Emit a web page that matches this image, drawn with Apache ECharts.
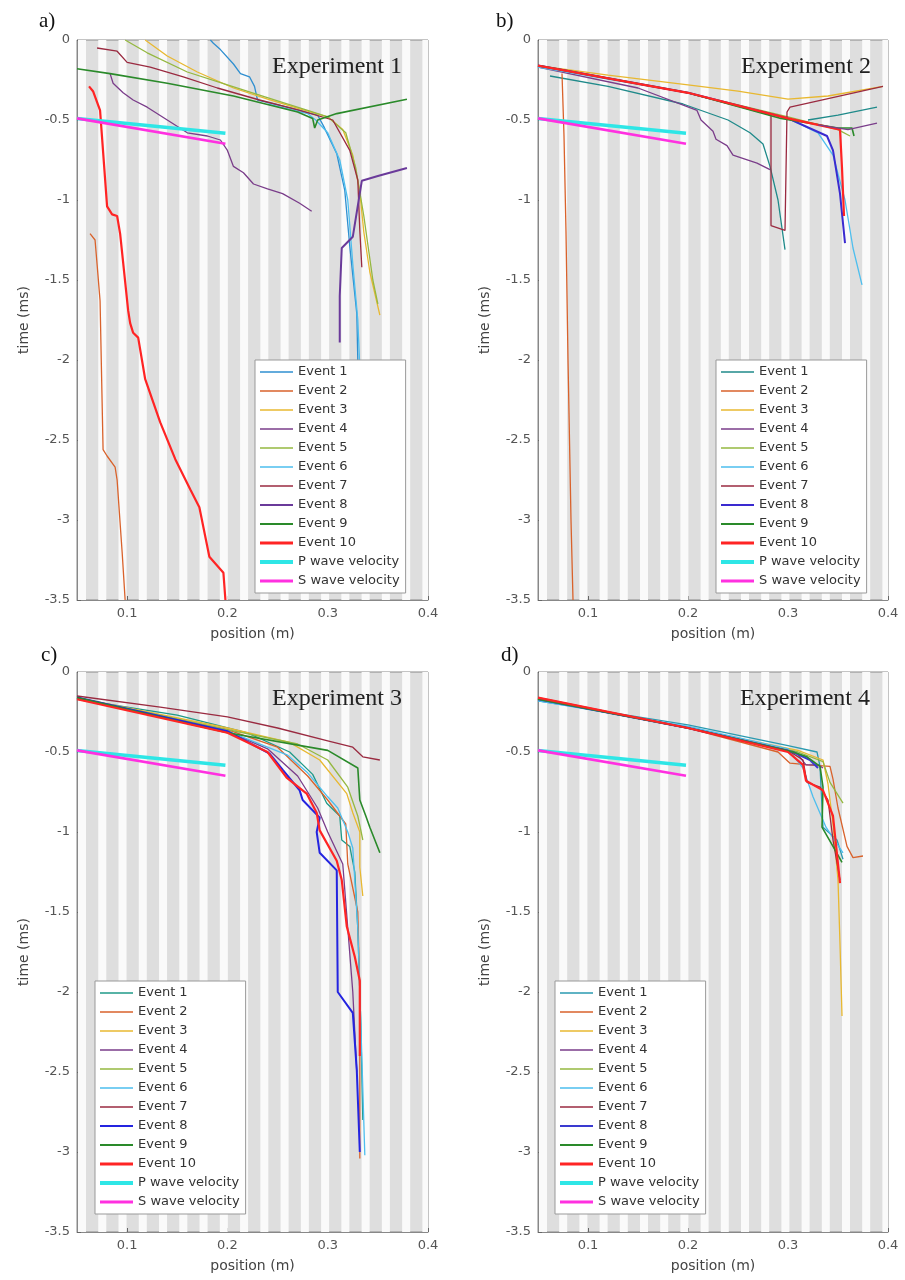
<!DOCTYPE html>
<html>
<head>
<meta charset="utf-8">
<script src="https://cdn.jsdelivr.net/npm/echarts@6/dist/echarts.min.js"></script>
<style>html,body{margin:0;padding:0;background:#fff}#c{width:905px;height:1280px}</style>
</head>
<body>
<div id="c"></div>
<script>
// ---------- data (position m, time ms) ----------
const seriesNames = ['Event 1','Event 2','Event 3','Event 4','Event 5','Event 6','Event 7','Event 8','Event 9','Event 10','P wave velocity','S wave velocity'];
const panelTitles = ['Experiment 1','Experiment 2','Experiment 3','Experiment 4'];
const panelLetters = ['a)','b)','c)','d)'];
const xTicks = [0.1,0.2,0.3,0.4];

const pWave = [[0.05,-0.49],[0.198,-0.583]];
const sWave = [[0.05,-0.49],[0.198,-0.648]];

// Experiment 1
const a_e1 = [[0.183,0],[0.186,-0.02],[0.193,-0.06],[0.206,-0.15],[0.213,-0.21],[0.222,-0.23],[0.227,-0.29],[0.23,-0.375],[0.26,-0.42],[0.29,-0.47],[0.296,-0.54],[0.309,-0.71],[0.317,-0.94],[0.322,-1.29],[0.329,-1.71],[0.33,-2.0]];
const a_e2 = [[0.063,-1.21],[0.068,-1.25],[0.07,-1.4],[0.073,-1.63],[0.076,-2.56],[0.08,-2.6],[0.088,-2.67],[0.09,-2.75],[0.095,-3.2],[0.098,-3.5]];
const a_e3 = [[0.118,0],[0.14,-0.1],[0.17,-0.2],[0.206,-0.3],[0.24,-0.37],[0.272,-0.43],[0.3,-0.48],[0.315,-0.56],[0.325,-0.72],[0.332,-0.95],[0.336,-1.2],[0.342,-1.45],[0.352,-1.72]];
const a_e4 = [[0.083,-0.21],[0.086,-0.27],[0.096,-0.33],[0.106,-0.375],[0.12,-0.42],[0.14,-0.5],[0.16,-0.58],[0.18,-0.6],[0.193,-0.625],[0.2,-0.69],[0.206,-0.79],[0.216,-0.83],[0.226,-0.9],[0.24,-0.93],[0.255,-0.96],[0.272,-1.02],[0.284,-1.07]];
const a_e5 = [[0.098,0],[0.12,-0.08],[0.16,-0.2],[0.2,-0.28],[0.25,-0.38],[0.28,-0.44],[0.3,-0.48],[0.318,-0.58],[0.328,-0.8],[0.336,-1.1],[0.345,-1.5],[0.35,-1.65]];
const a_e6 = [[0.24,-0.4],[0.28,-0.46],[0.288,-0.5],[0.3,-0.58],[0.312,-0.75],[0.32,-1.0],[0.325,-1.4],[0.33,-1.75],[0.332,-2.05]];
const a_e7 = [[0.07,-0.05],[0.09,-0.07],[0.1,-0.14],[0.123,-0.17],[0.156,-0.23],[0.19,-0.3],[0.232,-0.375],[0.272,-0.44],[0.305,-0.5],[0.322,-0.69],[0.33,-0.875],[0.332,-1.19],[0.334,-1.42]];
const a_e8 = [[0.379,-0.8],[0.35,-0.85],[0.334,-0.88],[0.325,-1.23],[0.314,-1.3],[0.312,-1.6],[0.312,-1.89]];
const a_e9 = [[0.05,-0.18],[0.083,-0.21],[0.14,-0.27],[0.206,-0.35],[0.27,-0.45],[0.285,-0.49],[0.287,-0.55],[0.29,-0.5],[0.309,-0.46],[0.379,-0.37]];
const a_e10 = [[0.062,-0.29],[0.066,-0.32],[0.073,-0.44],[0.08,-1.04],[0.085,-1.09],[0.09,-1.1],[0.093,-1.21],[0.101,-1.69],[0.103,-1.77],[0.106,-1.83],[0.111,-1.86],[0.118,-2.12],[0.133,-2.39],[0.148,-2.62],[0.163,-2.81],[0.172,-2.92],[0.182,-3.23],[0.196,-3.33],[0.198,-3.5]];

// Experiment 2
const b_e1 = [[0.062,-0.225],[0.12,-0.29],[0.195,-0.4],[0.24,-0.5],[0.262,-0.58],[0.275,-0.65],[0.282,-0.79],[0.29,-1.0],[0.297,-1.31]];
const b_e1_tail = [[0.32,-0.5],[0.35,-0.47],[0.389,-0.42]];
const b_e2 = [[0.074,-0.21],[0.076,-0.6],[0.078,-1.2],[0.08,-2.0],[0.083,-3.0],[0.085,-3.5]];
const b_e3 = [[0.05,-0.16],[0.12,-0.22],[0.2,-0.28],[0.25,-0.32],[0.3,-0.37],[0.34,-0.35],[0.395,-0.29]];
const b_e4 = [[0.05,-0.17],[0.15,-0.3],[0.209,-0.44],[0.213,-0.5],[0.225,-0.57],[0.228,-0.62],[0.239,-0.66],[0.245,-0.72],[0.269,-0.77],[0.282,-0.81]];
const b_e4_tail = [[0.33,-0.53],[0.36,-0.56],[0.389,-0.52]];
const b_e5 = [[0.05,-0.16],[0.2,-0.33],[0.3,-0.48],[0.35,-0.56],[0.362,-0.6]];
const b_e6 = [[0.05,-0.17],[0.2,-0.33],[0.3,-0.49],[0.33,-0.58],[0.345,-0.72],[0.357,-1.0],[0.365,-1.3],[0.374,-1.53]];
const b_e7 = [[0.05,-0.16],[0.2,-0.33],[0.283,-0.47],[0.283,-1.16],[0.297,-1.19],[0.299,-0.45],[0.302,-0.42],[0.395,-0.29]];
const b_e8 = [[0.05,-0.16],[0.2,-0.33],[0.3,-0.49],[0.339,-0.6],[0.345,-0.69],[0.352,-0.96],[0.357,-1.27]];
const b_e9 = [[0.05,-0.16],[0.2,-0.33],[0.293,-0.49],[0.35,-0.55],[0.364,-0.55],[0.366,-0.6]];
const b_e10 = [[0.05,-0.16],[0.2,-0.33],[0.3,-0.49],[0.352,-0.56],[0.354,-0.8],[0.356,-1.1]];

// Experiment 3
const c_e1 = [[0.05,-0.17],[0.15,-0.27],[0.22,-0.38],[0.262,-0.5],[0.285,-0.64],[0.299,-0.82],[0.312,-0.9],[0.314,-1.05],[0.322,-1.09],[0.327,-1.25],[0.33,-1.6],[0.333,-2.2],[0.335,-2.8]];
const c_e2 = [[0.05,-0.17],[0.2,-0.36],[0.25,-0.47],[0.28,-0.65],[0.3,-0.8],[0.318,-0.95],[0.32,-1.2],[0.33,-1.5],[0.332,-2.0],[0.332,-3.04]];
const c_e3 = [[0.05,-0.16],[0.2,-0.35],[0.262,-0.44],[0.292,-0.55],[0.319,-0.76],[0.325,-0.88],[0.332,-1.0],[0.332,-1.22],[0.335,-1.4]];
const c_e4 = [[0.05,-0.16],[0.2,-0.37],[0.24,-0.48],[0.27,-0.65],[0.29,-0.85],[0.3,-1.0],[0.315,-1.2],[0.32,-1.6],[0.325,-2.0],[0.329,-2.5]];
const c_e5 = [[0.05,-0.16],[0.2,-0.36],[0.27,-0.45],[0.3,-0.55],[0.32,-0.72],[0.33,-0.9],[0.335,-1.05]];
const c_e6 = [[0.05,-0.17],[0.2,-0.37],[0.26,-0.52],[0.28,-0.63],[0.3,-0.78],[0.31,-0.85],[0.32,-1.0],[0.325,-1.1],[0.33,-1.6],[0.334,-2.4],[0.337,-3.02]];
const c_e7 = [[0.05,-0.15],[0.133,-0.22],[0.2,-0.28],[0.25,-0.35],[0.3,-0.43],[0.325,-0.47],[0.335,-0.53],[0.352,-0.55]];
const c_e8 = [[0.05,-0.16],[0.2,-0.37],[0.242,-0.51],[0.255,-0.61],[0.272,-0.74],[0.275,-0.8],[0.292,-0.91],[0.289,-1.0],[0.292,-1.13],[0.309,-1.24],[0.31,-2.0],[0.325,-2.13],[0.329,-2.49],[0.332,-3.0]];
const c_e9 = [[0.05,-0.16],[0.2,-0.38],[0.3,-0.49],[0.33,-0.6],[0.332,-0.8],[0.338,-0.9],[0.342,-0.97],[0.352,-1.13]];
const c_e10 = [[0.05,-0.17],[0.2,-0.38],[0.24,-0.5],[0.259,-0.66],[0.279,-0.76],[0.289,-0.88],[0.292,-0.99],[0.309,-1.18],[0.314,-1.3],[0.319,-1.59],[0.327,-1.78],[0.332,-1.93],[0.332,-2.4]];

// Experiment 4
const d_e1 = [[0.05,-0.18],[0.2,-0.33],[0.3,-0.46],[0.329,-0.5],[0.332,-0.59],[0.335,-0.97],[0.349,-1.05],[0.355,-1.17]];
const d_e2 = [[0.05,-0.17],[0.2,-0.35],[0.29,-0.5],[0.302,-0.57],[0.32,-0.58],[0.342,-0.59],[0.345,-0.67],[0.35,-0.85],[0.359,-1.09],[0.365,-1.16],[0.375,-1.15]];
const d_e3 = [[0.05,-0.17],[0.2,-0.35],[0.31,-0.49],[0.335,-0.55],[0.34,-0.7],[0.345,-0.95],[0.35,-1.3],[0.352,-1.7],[0.354,-2.15]];
const d_e4 = [[0.05,-0.17],[0.2,-0.35],[0.309,-0.51],[0.318,-0.58],[0.33,-0.58],[0.335,-0.6]];
const d_e5 = [[0.05,-0.17],[0.2,-0.35],[0.31,-0.5],[0.335,-0.56],[0.342,-0.69],[0.355,-0.82]];
const d_e6 = [[0.05,-0.18],[0.2,-0.34],[0.3,-0.48],[0.315,-0.6],[0.325,-0.78],[0.338,-0.97],[0.355,-1.13]];
const d_e7 = [[0.05,-0.16],[0.2,-0.35],[0.3,-0.49],[0.315,-0.55],[0.319,-0.69],[0.332,-0.72],[0.34,-0.8],[0.345,-1.05],[0.352,-1.3]];
const d_e8 = [[0.05,-0.17],[0.2,-0.35],[0.305,-0.5],[0.322,-0.55],[0.33,-0.6]];
const d_e9 = [[0.05,-0.17],[0.2,-0.35],[0.305,-0.5],[0.319,-0.53],[0.332,-0.59],[0.335,-0.72],[0.334,-0.97],[0.345,-1.09],[0.354,-1.19]];
const d_e10 = [[0.05,-0.16],[0.2,-0.35],[0.3,-0.5],[0.315,-0.58],[0.318,-0.68],[0.335,-0.74],[0.345,-0.9],[0.35,-1.2],[0.352,-1.32]];

// ---------- styling ----------
const baseColors = ['#2f8fd0','#d9622b','#e8b830','#7a3d8a','#95b840','#4dbeee','#9a2a40','#2424e0','#2a8a2a','#ff2424','#2ee6e6','#ff30e0'];
const lineWidths = [1.3,1.3,1.3,1.3,1.3,1.3,1.3,2,1.6,2.2,3.5,2.6];
const legendWidths = [1.5,1.5,1.5,1.5,1.5,1.5,1.5,2,1.8,3,4,3];
const panelE1Color = ['#2f8fd0','#1f8a8a','#1f9a88','#2a9ab0'];
const panelE8Color = ['#6a3a9a','#3a2ad0','#2424e0','#3a3ad0'];

const panels = [
  {events:[a_e1,a_e2,a_e3,a_e4,a_e5,a_e6,a_e7,a_e8,a_e9,a_e10], extra:[]},
  {events:[b_e1,b_e2,b_e3,b_e4,b_e5,b_e6,b_e7,b_e8,b_e9,b_e10], extra:[[0,b_e1_tail],[3,b_e4_tail]]},
  {events:[c_e1,c_e2,c_e3,c_e4,c_e5,c_e6,c_e7,c_e8,c_e9,c_e10], extra:[]},
  {events:[d_e1,d_e2,d_e3,d_e4,d_e5,d_e6,d_e7,d_e8,d_e9,d_e10], extra:[]}
];

const grids = [
  {left:77, top:40, width:351, height:560},
  {left:538, top:40, width:350, height:560},
  {left:77, top:672, width:351, height:560},
  {left:538, top:672, width:350, height:560}
];
const legendPos = [{left:255, top:360},{left:716, top:360},{left:95, top:981},{left:555, top:981}];
const titlePos = [{right:498, top:50},{right:29, top:50},{right:498, top:682},{right:30, top:682}];
const letterPos = [{left:34, top:6},{left:491, top:6},{left:36, top:640},{left:496, top:640}];

const font = 'DejaVu Sans';
const xAxes = [], yAxes = [], series = [], legends = [], titles = [];

function colorOf(k, i) {
  if (k === 0) return panelE1Color[i];
  if (k === 7) return panelE8Color[i];
  return baseColors[k];
}

grids.forEach((g,i)=>{
  xAxes.push({
    type:'value', gridIndex:i, min:0.05, max:0.4,
    name:'position (m)', nameLocation:'middle', nameGap:27,
    nameTextStyle:{fontFamily:font, fontSize:14, color:'#444'},
    axisLine:{show:true, onZero:false, lineStyle:{color:'#888'}},
    axisTick:{show:true, inside:true, length:4, customValues:xTicks, lineStyle:{color:'#666'}},
    axisLabel:{customValues:xTicks, margin:7, fontFamily:font, fontSize:13, color:'#555',
      formatter:v=>String(Math.round(v*10)/10)},
    splitLine:{show:false}
  });
  yAxes.push({
    type:'value', gridIndex:i, min:-3.5, max:0, interval:0.5,
    name:'time (ms)', nameLocation:'middle', nameGap:46, nameRotate:90,
    nameTextStyle:{fontFamily:font, fontSize:14, color:'#444'},
    axisLine:{show:true, onZero:false, lineStyle:{color:'#888'}},
    axisTick:{show:true, inside:true, length:4, lineStyle:{color:'#666'}},
    axisLabel:{margin:7, fontFamily:font, fontSize:13, color:'#555'},
    splitLine:{show:false}
  });
  // stripe background (decoration)
  const stripes = [];
  for (let s = 0.055; s < 0.4; s += 0.0202) stripes.push([{xAxis:s-0.004},{xAxis:s+0.004}]);
  series.push({type:'line', xAxisIndex:i, yAxisIndex:i, data:[[0.05,0]], symbol:'none',
    lineStyle:{width:0, opacity:0}, z:1, silent:true,
    markArea:{silent:true, itemStyle:{color:'#fafafa'}, data:stripes}});

  const p = panels[i];
  const legendItems = [];
  seriesNames.forEach((nm,k)=>{
    const key = nm + '|' + i;
    const col = colorOf(k, i);
    legendItems.push({name:key, lineStyle:{color:col, width:legendWidths[k]}, itemStyle:{opacity:0}});
    const data = k<10 ? p.events[k] : (k===10 ? pWave : sWave);
    series.push({type:'line', name:key, xAxisIndex:i, yAxisIndex:i, data:data, symbol:'none',
      showSymbol:false, lineStyle:{color:col, width:lineWidths[k]}, itemStyle:{color:col}, z:3+(k>=10?1:0), silent:true});
  });
  p.extra.forEach(([k,data])=>{
    const col = colorOf(k, i);
    series.push({type:'line', name:seriesNames[k]+'|'+i, xAxisIndex:i, yAxisIndex:i, data:data, symbol:'none',
      lineStyle:{color:col, width:lineWidths[k]}, itemStyle:{color:col}, z:3, silent:true});
  });
  legends.push(Object.assign({
    data:legendItems, orient:'vertical', itemWidth:33, itemHeight:14, itemGap:5,
    padding:[5,6,5,3], backgroundColor:'#fff', borderColor:'#999', borderWidth:1, borderRadius:0,
    selectedMode:false, formatter:n=>n.split('|')[0],
    itemStyle:{opacity:0},
    textStyle:{fontFamily:font, fontSize:13, color:'#333', lineHeight:14}
  }, legendPos[i]));
  titles.push(Object.assign({text:panelTitles[i], textStyle:{fontFamily:'Liberation Serif', fontSize:24, fontWeight:'normal', color:'#222'}}, titlePos[i]));
  titles.push(Object.assign({text:panelLetters[i], textStyle:{fontFamily:'Liberation Serif', fontSize:21, fontWeight:'normal', color:'#111'}}, letterPos[i]));
});

const chart = echarts.init(document.getElementById('c'), null, {renderer:'canvas'});
chart.setOption({
  animation:false,
  backgroundColor:'#fff',
  title:titles,
  legend:legends,
  grid:grids.map(g=>Object.assign({show:true, backgroundColor:'#dedede', borderColor:'#888', borderWidth:1, containLabel:false}, g)),
  xAxis:xAxes,
  yAxis:yAxes,
  series:series
});
</script>
</body>
</html>
